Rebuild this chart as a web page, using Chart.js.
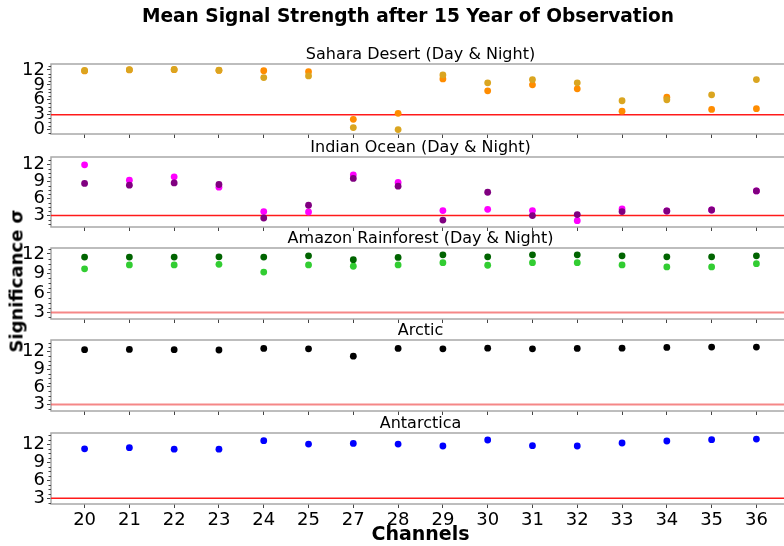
<!DOCTYPE html>
<html>
<head>
<meta charset="utf-8">
<script src="https://cdn.jsdelivr.net/npm/chart.js@4.4.1/dist/chart.umd.min.js"></script>
<style>
  body { margin: 0; background: #fff; }
  #wrap { position: relative; width: 784px; height: 546px; overflow: hidden; }
  canvas { position: absolute; left: 0; }
  #main {
    position: absolute; left: 0; top: 5px; width: 816px; text-align: center;
    font: bold 18.6px "DejaVu Sans"; line-height: 22px; color: #000; white-space: nowrap;
  }
  #ylab {
    position: absolute; left: 16px; top: 281px;
    transform: translate(-50%, -50%) rotate(-90deg);
    font: bold 18px "DejaVu Sans"; white-space: nowrap; color: #000;
  }
</style>
</head>
<body>
<div id="wrap">
  <canvas id="c0"></canvas>
  <canvas id="c1"></canvas>
  <canvas id="c2"></canvas>
  <canvas id="c3"></canvas>
  <canvas id="c4"></canvas>
  <div id="main">Mean Signal Strength after 15 Year of Observation</div>
  <div id="ylab">Significance σ</div>
</div>
<script>
// channels (26 is missing in the source figure)
const channels = ['20', '21', '22', '23', '24', '25', '27', '28', '29', '30', '31', '32', '33', '34', '35', '36'];

const saharaGold   = [11.9, 12.05, 12.1, 11.95, 10.46, 10.8, 0.4, 0.0, 11.0, 9.4, 10.06, 9.4, 5.8, 6.0, 7.0, 10.06];
const saharaOrange = [11.8, 12.0, 12.05, 11.9, 11.86, 11.66, 2.06, 3.26, 10.2, 7.8, 9.0, 8.2, 3.7, 6.5, 4.06, 4.2];

const indianPurple  = [8.65, 8.35, 8.75, 8.47, 2.58, 4.82, 9.53, 8.17, 2.22, 7.11, 3.0, 3.18, 3.71, 3.81, 3.99, 7.34];
const indianMagenta = [11.93, 9.23, 9.81, 7.99, 3.71, 3.64, 10.16, 8.82, 3.88, 4.11, 3.88, 2.12, 4.16, 3.81, 3.99, 7.34];

const amazonDark = [11.5, 11.5, 11.5, 11.55, 11.5, 11.7, 11.1, 11.45, 11.85, 11.55, 11.85, 11.85, 11.7, 11.55, 11.55, 11.7];
const amazonLime = [9.7, 10.3, 10.3, 10.4, 9.2, 10.3, 10.1, 10.3, 10.65, 10.25, 10.65, 10.65, 10.3, 10.0, 10.0, 10.5];

const arctic     = [12.35, 12.4, 12.35, 12.3, 12.56, 12.5, 11.25, 12.56, 12.5, 12.6, 12.5, 12.56, 12.6, 12.73, 12.8, 12.8];
const antarctica = [11.2, 11.4, 11.15, 11.15, 12.55, 12.0, 12.1, 12.0, 11.67, 12.67, 11.72, 11.67, 12.17, 12.5, 12.72, 12.83];

const yTicksSahara = [0, 3, 6, 9, 12];
const yTicksOther  = [3, 6, 9, 12];
const threshold = 3;

const xMin = -0.75, xMax = 15.75;
const W = 816;

// spines + minor ticks on y
const framePlugin = {
  id: 'frame',
  beforeDatasetsDraw(chart) {
    const a = chart.chartArea, ctx = chart.ctx;
    ctx.save();
    ctx.strokeStyle = '#a8a8a8';
    ctx.lineWidth = 1.5;
    ctx.strokeRect(a.left, a.top, a.right - a.left, a.bottom - a.top);
    // minor ticks
    const y = chart.scales.y;
    ctx.strokeStyle = '#444';
    ctx.lineWidth = 1;
    for (let v = Math.ceil(y.min / 0.75) * 0.75; v <= y.max; v += 0.75) {
      if (Math.abs(v / 3 - Math.round(v / 3)) < 1e-6) continue;
      const py = Math.round(y.getPixelForValue(v)) + 0.5;
      ctx.beginPath();
      ctx.moveTo(a.left - 2.5, py);
      ctx.lineTo(a.left, py);
      ctx.stroke();
    }
    ctx.restore();
  }
};

function pts(vals) {
  return channels.map((c, i) => ({ x: i, y: vals[i] }));
}

function noPad(s) {
  s.paddingTop = 0; s.paddingBottom = 0; s.paddingLeft = 0; s.paddingRight = 0;
}

function makePanel(id, top, height, title, series, yMin, yMax, yTicks, opts) {
  const cv = document.getElementById(id);
  cv.width = W; cv.height = height;
  cv.style.top = top + 'px';

  const datasets = series.map(s => ({
    type: 'scatter',
    data: pts(s.vals),
    backgroundColor: s.color,
    borderWidth: 0,
    pointRadius: 3.4,
    order: 0
  }));
  datasets.push({
    type: 'line',
    data: [{ x: xMin, y: threshold }, { x: xMax, y: threshold }],
    borderColor: opts.lineColor || '#ff1a1a',
    borderWidth: opts.lineWidth || 1.5,
    pointRadius: 0,
    order: 10
  });

  const bottom = !!opts.bottom;

  return new Chart(cv, {
    data: { datasets },
    plugins: [framePlugin],
    options: {
      responsive: false,
      animation: false,
      events: [],
      layout: { padding: { left: 0, right: W - 790, top: 0, bottom: 0 } },
      plugins: {
        legend: { display: false },
        tooltip: { enabled: false },
        title: {
          display: true, text: title, fullSize: false, color: '#000',
          font: { family: 'DejaVu Sans', size: 16, weight: 'normal', lineHeight: 1.1 },
          padding: { top: opts.titleTop || 0.4, bottom: 0 }
        }
      },
      scales: {
        x: {
          type: 'linear', min: xMin, max: xMax,
          afterBuildTicks: s => { s.ticks = channels.map((c, i) => ({ value: i })); },
          afterFit: s => { s.height = bottom ? 42 : 4; noPad(s); },
          border: { display: false },
          grid: { drawOnChartArea: false, drawTicks: true, tickLength: 4, color: '#444' },
          ticks: {
            display: bottom, color: '#000', padding: 2,
            font: { family: 'DejaVu Sans', size: 18 },
            maxRotation: 0, autoSkip: false,
            callback: v => channels[v]
          },
          title: {
            display: bottom, text: 'Channels', color: '#000',
            font: { family: 'DejaVu Sans', size: 19, weight: 'bold', lineHeight: 1.2 },
            padding: { top: 0, bottom: 0 }
          }
        },
        y: {
          min: yMin, max: yMax,
          afterBuildTicks: s => { s.ticks = yTicks.map(v => ({ value: v })); },
          afterFit: s => { s.width = 51; noPad(s); },
          border: { display: false },
          grid: { drawOnChartArea: false, drawTicks: true, tickLength: 4, color: '#444' },
          ticks: {
            color: '#000', padding: 2, autoSkip: false,
            font: { family: 'DejaVu Sans', size: 18, lineHeight: 1 },
            callback: v => String(v)
          }
        }
      }
    }
  });
}

makePanel('c0', 0, 138, 'Sahara Desert (Day & Night)',
  [{ vals: saharaGold, color: '#daa520' }, { vals: saharaOrange, color: '#ff8c00' }],
  -0.9, 13.2, yTicksSahara, { titleTop: 46.4 });

makePanel('c1', 139, 92, 'Indian Ocean (Day & Night)',
  [{ vals: indianPurple, color: '#800080' }, { vals: indianMagenta, color: '#ff00ff' }],
  1.0, 13.3, yTicksOther, {});

makePanel('c2', 230, 93, 'Amazon Rainforest (Day & Night)',
  [{ vals: amazonDark, color: '#006400' }, { vals: amazonLime, color: '#32cd32' }],
  2.0, 12.9, yTicksOther, { lineColor: 'rgba(240,70,70,0.65)', lineWidth: 2 });

makePanel('c3', 322, 93, 'Arctic',
  [{ vals: arctic, color: '#000000' }],
  1.9, 14.0, yTicksOther, { lineColor: 'rgba(240,70,70,0.65)', lineWidth: 2 });

makePanel('c4', 415, 131, 'Antarctica',
  [{ vals: antarctica, color: '#0000ff' }],
  2.05, 13.83, yTicksOther, { bottom: true });
</script>
</body>
</html>
